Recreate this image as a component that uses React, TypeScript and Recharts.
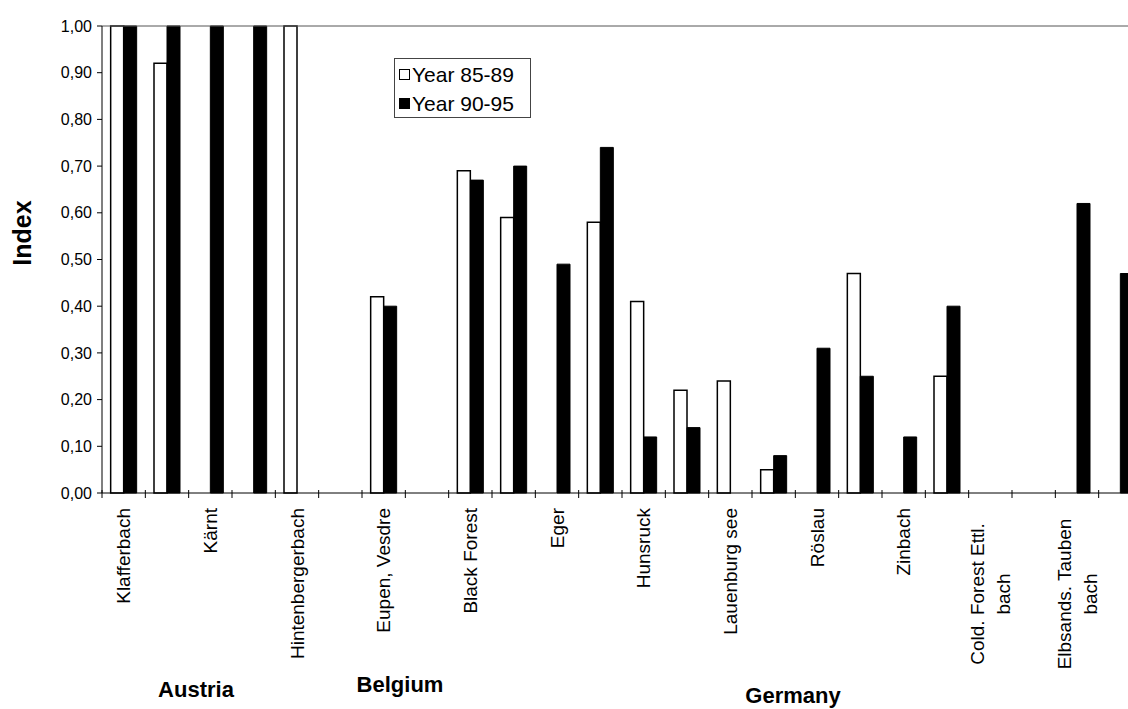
import React from 'react';
import { BarChart, Bar, XAxis, YAxis, ReferenceLine, Legend } from 'recharts';

const categories: string[] = [
  'Klafferbach', '', 'Kärnt', '', 'Hintenbergerbach', '', 'Eupen, Vesdre', '',
  'Black Forest', '', 'Eger', '', 'Hunsruck', '', 'Lauenburg see', '',
  'Röslau', '', 'Zinbach', '', 'Cold. Forest Ettl.\nbach', '', 'Elbsands. Tauben\nbach', '',
];

const series8589: (number | null)[] = [
  1.0, 0.92, null, null, 1.0, null, 0.42, null,
  0.69, 0.59, null, 0.58, 0.41, 0.22, 0.24, 0.05,
  null, 0.47, null, 0.25, null, null, null, null,
];

const series9095: (number | null)[] = [
  1.0, 1.0, 1.0, 1.0, null, null, 0.4, null,
  0.67, 0.7, 0.49, 0.74, 0.12, 0.14, null, 0.08,
  0.31, 0.25, 0.12, 0.4, null, null, 0.62, 0.47,
];

const seriesNames = ['Year 85-89', 'Year 90-95'];
const seriesFills = ['#ffffff', '#000000'];
const yTicks = [0, 0.1, 0.2, 0.3, 0.4, 0.5, 0.6, 0.7, 0.8, 0.9, 1.0];
const countries = ['Austria', 'Belgium', 'Germany'];
const axisTitle = 'Index';

const data = categories.map((c, i) => ({
  id: i,
  name: c,
  y8589: series8589[i],
  y9095: series9095[i],
}));

const FONT = '"Liberation Sans", Arial, Helvetica, sans-serif';
const CHART_W = 1150;
const CHART_H = 709;
const MARGIN = { top: 26, right: 8, bottom: 0, left: 0 };
const Y_W = 102;
const X_H = 216;
const PLOT_W = CHART_W - MARGIN.left - MARGIN.right - Y_W;
const STEP = PLOT_W / categories.length;
const LABEL_FS = 19;

function XTick(props: any) {
  const { x, y, payload } = props;
  const label = categories[Number(payload.value)] || '';
  const bx = x - STEP / 2;
  const lines = label ? label.split('\n') : [];
  return (
    <g>
      <line x1={bx} x2={bx} y1={y - 3} y2={y + 5} stroke="#000" strokeWidth={1} />
      {lines.length === 1 && (
        <text
          x={x}
          y={y + 15}
          dy={LABEL_FS * 0.35}
          transform={`rotate(-90, ${x}, ${y + 15})`}
          textAnchor="end"
          fontSize={LABEL_FS}
          fontFamily={FONT}
          fill="#000"
        >
          {lines[0]}
        </text>
      )}
      {lines.length === 2 &&
        lines.map((ln, k) => (
          <text
            key={k}
            x={x}
            y={y + 101}
            dy={LABEL_FS * 0.35 + (k === 0 ? -13 : 13)}
            transform={`rotate(-90, ${x}, ${y + 101})`}
            textAnchor="middle"
            fontSize={LABEL_FS}
            fontFamily={FONT}
            fill="#000"
          >
            {ln}
          </text>
        ))}
    </g>
  );
}

function LegendBox(props: any) {
  const payload = props.payload || [];
  return (
    <div
      style={{
        border: '1px solid #444',
        background: '#fff',
        width: 137,
        height: 60,
        boxSizing: 'border-box',
        padding: '1px 0 0 4px',
        fontFamily: FONT,
        fontSize: 21,
        color: '#000',
      }}
    >
      {payload.map((p: any, i: number) => (
        <div key={i} style={{ display: 'flex', alignItems: 'center', height: 29, whiteSpace: 'nowrap' }}>
          <span
            style={{
              display: 'inline-block',
              width: 11,
              height: 11,
              boxSizing: 'border-box',
              border: '1.5px solid #000',
              background: seriesFills[i],
              marginRight: 2,
              flexShrink: 0,
            }}
          />
          <span>{p.value}</span>
        </div>
      ))}
    </div>
  );
}

export default function App() {
  return (
    <div
      style={{
        position: 'absolute',
        left: 0,
        top: 0,
        width: 1128,
        height: 709,
        overflow: 'hidden',
        background: '#fff',
        fontFamily: FONT,
      }}
    >
      <BarChart
        width={CHART_W}
        height={CHART_H}
        data={data}
        margin={MARGIN}
        barCategoryGap="20%"
        barGap={0}
      >
        <XAxis
          dataKey="id"
          type="category"
          height={X_H}
          interval={0}
          tickLine={false}
          tickSize={0}
          tickMargin={0}
          axisLine={{ stroke: '#000', strokeWidth: 1 }}
          tick={<XTick />}
        />
        <YAxis
          width={Y_W}
          domain={[0, 1]}
          ticks={yTicks}
          interval={0}
          tickFormatter={(v: number) => v.toFixed(2).replace('.', ',')}
          tick={{ fontSize: 16, fill: '#000', fontFamily: FONT }}
          tickSize={5}
          tickMargin={5}
          axisLine={{ stroke: '#000', strokeWidth: 1 }}
          tickLine={{ stroke: '#000', strokeWidth: 1 }}
        />
        <ReferenceLine y={1} stroke="#555" strokeWidth={1} />
        <Legend
          layout="vertical"
          align="center"
          verticalAlign="middle"
          content={<LegendBox />}
          wrapperStyle={{ position: 'absolute', left: 394, top: 58, width: 137, height: 60 }}
        />
        <Bar
          dataKey="y8589"
          name={seriesNames[0]}
          fill={seriesFills[0]}
          stroke="#000"
          strokeWidth={1.5}
          isAnimationActive={false}
        />
        <Bar
          dataKey="y9095"
          name={seriesNames[1]}
          fill={seriesFills[1]}
          stroke="#000"
          strokeWidth={1}
          isAnimationActive={false}
        />
      </BarChart>

      <div
        style={{
          position: 'absolute',
          left: 22,
          top: 233,
          transform: 'translate(-50%, -50%) rotate(-90deg)',
          fontSize: 25,
          fontWeight: 'bold',
          lineHeight: 1,
          whiteSpace: 'nowrap',
        }}
      >
        {axisTitle}
      </div>

      <div style={{ position: 'absolute', left: 96, top: 679, width: 200, textAlign: 'center', fontSize: 22, fontWeight: 'bold', lineHeight: '22px' }}>
        {countries[0]}
      </div>
      <div style={{ position: 'absolute', left: 300, top: 674, width: 200, textAlign: 'center', fontSize: 22, fontWeight: 'bold', lineHeight: '22px' }}>
        {countries[1]}
      </div>
      <div style={{ position: 'absolute', left: 693, top: 685, width: 200, textAlign: 'center', fontSize: 22, fontWeight: 'bold', lineHeight: '22px' }}>
        {countries[2]}
      </div>
    </div>
  );
}
